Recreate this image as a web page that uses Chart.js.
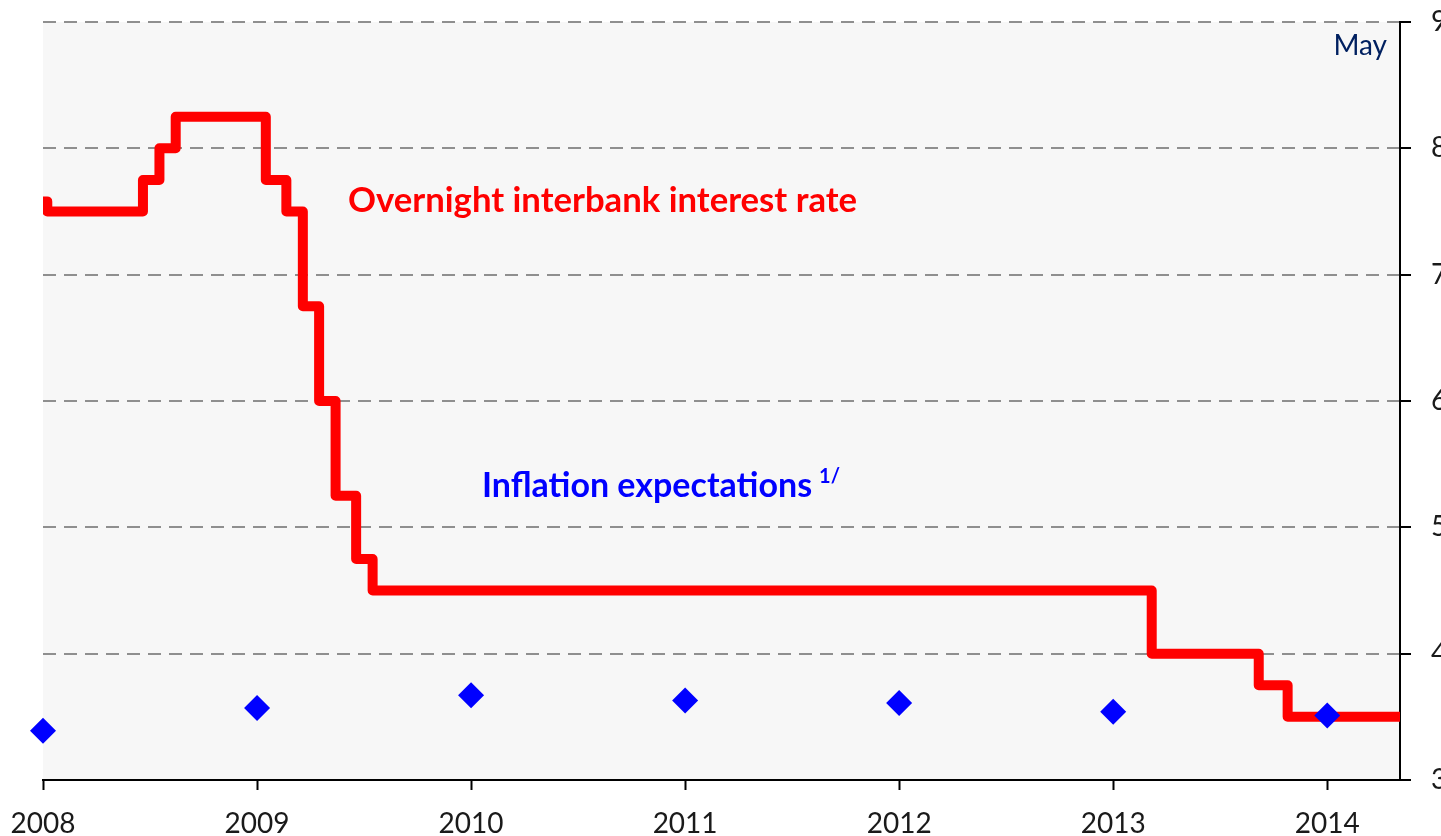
<!DOCTYPE html>
<html>
<head>
<meta charset="utf-8">
<script src="https://cdn.jsdelivr.net/npm/chart.js@4/dist/chart.umd.min.js"></script>
<style>
  html, body { margin: 0; padding: 0; background: #ffffff; overflow: hidden; }
  #wrap { width: 1441px; height: 836px; }
</style>
</head>
<body>
<div id="wrap"><canvas id="c" width="1441" height="836"></canvas></div>
<script>
// ---- data ----
const rateDates  = [2008.0, 2008.02, 2008.467, 2008.544, 2008.62, 2009.041, 2009.137, 2009.214, 2009.29, 2009.367, 2009.463, 2009.54, 2013.18, 2013.68, 2013.815, 2014.34];
const rateValues = [7.58, 7.5, 7.75, 8.0, 8.25, 7.75, 7.5, 6.75, 6.0, 5.25, 4.75, 4.5, 4.0, 3.75, 3.5, 3.5];
const inflYears  = [2008, 2009, 2010, 2011, 2012, 2013, 2014];
const inflValues = [3.39, 3.57, 3.67, 3.63, 3.61, 3.54, 3.51];
const xTickValues = [2008, 2009, 2010, 2011, 2012, 2013, 2014];
const yTickValues = [3, 4, 5, 6, 7, 8, 9];
const labelRate = 'Overnight interbank interest rate';
const labelInfl = 'Inflation expectations';
const labelInflNote = '1/';
const labelMay = 'May';

const ratePoints = rateDates.map((d, i) => ({ x: d, y: rateValues[i] }));
const inflPoints = inflYears.map((d, i) => ({ x: d, y: inflValues[i] }));

const bgPlugin = {
  id: 'plotBg',
  beforeDraw(chart) {
    const { ctx, chartArea: a } = chart;
    ctx.save();
    ctx.fillStyle = '#f7f7f7';
    ctx.fillRect(a.left, a.top, a.right - a.left, a.bottom - a.top);
    ctx.restore();
  }
};

const textPlugin = {
  id: 'labels',
  afterDraw(chart) {
    const ctx = chart.ctx;
    ctx.save();
    ctx.textBaseline = 'alphabetic';
    ctx.textAlign = 'left';
    ctx.fillStyle = '#ff0000';
    ctx.font = 'bold 34.7px Lato';
    ctx.fillText(labelRate, 348, 212);
    ctx.fillStyle = '#0000ff';
    ctx.font = 'bold 34px Lato';
    ctx.fillText(labelInfl, 482, 497);
    const w = ctx.measureText(labelInfl).width;
    ctx.font = 'bold 20px Lato';
    ctx.fillText(labelInflNote, 482 + w + 7, 483);
    ctx.fillStyle = '#002060';
    ctx.font = '28px Lato';
    ctx.textAlign = 'right';
    ctx.fillText(labelMay, 1387, 55);
    ctx.restore();
  }
};

new Chart(document.getElementById('c'), {
  type: 'line',
  data: {
    datasets: [
      {
        label: labelInfl,
        type: 'scatter',
        data: inflPoints,
        pointStyle: 'rectRot',
        pointRadius: 13,
        pointHoverRadius: 13,
        backgroundColor: '#0000ff',
        borderColor: '#0000ff',
        borderWidth: 0,
        clip: false,
        yAxisID: 'y'
      },
      {
        label: labelRate,
        data: ratePoints,
        stepped: 'before',
        borderColor: '#ff0000',
        borderWidth: 10,
        borderJoinStyle: 'round',
        pointRadius: 0,
        fill: false,
        yAxisID: 'y'
      }
    ]
  },
  options: {
    responsive: false,
    animation: false,
    events: [],
    layout: { padding: { left: 43, top: 22, right: 0, bottom: 0 } },
    plugins: { legend: { display: false }, tooltip: { enabled: false } },
    scales: {
      x: {
        type: 'linear',
        position: 'bottom',
        min: 2008,
        max: 2014.34,
        afterBuildTicks(scale) { scale.ticks = xTickValues.map(v => ({ value: v })); },
        afterFit(scale) { scale.height = 56; scale.paddingLeft = 0; scale.paddingRight = 0; },
        grid: { display: true, drawOnChartArea: false, drawTicks: true, tickLength: 10, tickColor: '#000000', tickWidth: 2 },
        border: { display: true, color: '#000000', width: 2 },
        ticks: {
          autoSkip: false,
          maxRotation: 0,
          padding: 17,
          color: '#1a1a1a',
          font: { family: 'Lato', size: 28 },
          callback: (v) => String(v)
        }
      },
      y: {
        type: 'linear',
        position: 'right',
        min: 3,
        max: 9,
        afterBuildTicks(scale) { scale.ticks = yTickValues.map(v => ({ value: v })); },
        afterFit(scale) { scale.width = 41; scale.paddingTop = 0; scale.paddingBottom = 0; },
        grid: { display: true, drawOnChartArea: true, color: '#8f8f8f', lineWidth: 2, drawTicks: true, tickLength: 11, tickColor: '#000000', tickWidth: 2 },
        border: { display: true, color: '#000000', width: 2, dash: [13, 8] },
        ticks: {
          padding: 20,
          crossAlign: 'near',
          color: '#1a1a1a',
          font: { family: 'Lato', size: 28 },
          callback: (v) => String(v)
        }
      }
    }
  },
  plugins: [bgPlugin, textPlugin]
});
</script>
</body>
</html>
